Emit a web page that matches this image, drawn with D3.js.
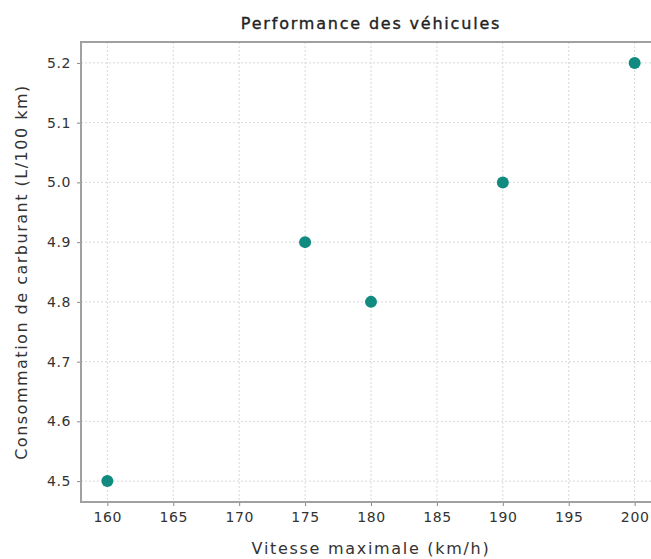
<!DOCTYPE html>
<html>
<head>
  <meta charset="utf-8">
  <script src="https://d3js.org/d3.v7.min.js"></script>
  <style>
    body { margin: 0; background: #fff; overflow: hidden; }
    * { font-family: 'DejaVu Sans', sans-serif; }
    .grid line { stroke: #d8d8d8; stroke-dasharray: 2,2; stroke-width: 1; }
    .axis text { fill: #333; font-size: 14px; letter-spacing: 0.6px; }
    .axis line { stroke: #888; }
    .spine { stroke: #a0a0a0; stroke-width: 2; }
  </style>
</head>
<body>
  <div id="chart"></div>
  <script>
    // data
    const speeds = [160, 175, 180, 190, 200];
    const consumption = [4.5, 4.9, 4.8, 5.0, 5.2];
    const xTicks = [160, 165, 170, 175, 180, 185, 190, 195, 200];
    const yTicks = [4.5, 4.6, 4.7, 4.8, 4.9, 5.0, 5.1, 5.2];

    const width = 651, height = 559;
    const plotLeft = 81, plotTop = 42, plotRight = 661, plotBottom = 502;
    // the figure is cut on the right: nothing is drawn past the window
    const visibleRight = Math.min(plotRight, width);

    const svg = d3.select('#chart').append('svg')
      .attr('width', width)
      .attr('height', height)
      .style('display', 'block');

    const x = d3.scaleLinear().domain([158, 202]).range([plotLeft, plotRight]);
    const y = d3.scaleLinear().domain([4.465, 5.235]).range([plotBottom, plotTop]);

    // grid
    svg.append('g').attr('class', 'grid')
      .selectAll('line').data(xTicks).enter().append('line')
      .attr('x1', d => x(d)).attr('x2', d => x(d))
      .attr('y1', plotTop).attr('y2', plotBottom);
    svg.append('g').attr('class', 'grid')
      .selectAll('line').data(yTicks).enter().append('line')
      .attr('x1', plotLeft).attr('x2', visibleRight)
      .attr('y1', d => y(d)).attr('y2', d => y(d));

    // axes
    const xAxis = svg.append('g').attr('class', 'axis')
      .attr('transform', `translate(0,${plotBottom})`)
      .call(d3.axisBottom(x).tickValues(xTicks).tickSize(4).tickPadding(6).tickFormat(d3.format('d')));
    xAxis.select('.domain').remove();

    const yAxis = svg.append('g').attr('class', 'axis')
      .attr('transform', `translate(${plotLeft},0)`)
      .call(d3.axisLeft(y).tickValues(yTicks).tickSize(4).tickPadding(6).tickFormat(d3.format('.1f')));
    yAxis.select('.domain').remove();

    // spines (the right one falls outside the picture)
    const spines = svg.append('g');
    spines.append('line').attr('class', 'spine')
      .attr('x1', plotLeft).attr('x2', visibleRight).attr('y1', plotTop).attr('y2', plotTop);
    spines.append('line').attr('class', 'spine')
      .attr('x1', plotLeft).attr('x2', visibleRight).attr('y1', plotBottom).attr('y2', plotBottom);
    spines.append('line').attr('class', 'spine')
      .attr('x1', plotLeft).attr('x2', plotLeft).attr('y1', plotTop - 1).attr('y2', plotBottom + 1);

    // points
    svg.append('g').selectAll('circle')
      .data(speeds.map((s, i) => ({ s: s, c: consumption[i] })))
      .enter().append('circle')
      .attr('cx', d => x(d.s))
      .attr('cy', d => y(d.c))
      .attr('r', 6)
      .attr('fill', '#118a80');

    // title and labels
    svg.append('text')
      .attr('x', (plotLeft + plotRight) / 2).attr('y', 29)
      .attr('text-anchor', 'middle')
      .attr('font-size', 16)
      .attr('letter-spacing', 1.8)
      .attr('fill', '#222')
      .attr('stroke', '#222')
      .attr('stroke-width', 0.35)
      .text('Performance des véhicules');

    svg.append('text')
      .attr('x', (plotLeft + plotRight) / 2).attr('y', 554)
      .attr('text-anchor', 'middle')
      .attr('font-size', 16)
      .attr('letter-spacing', 1.7)
      .attr('fill', '#333')
      .text('Vitesse maximale (km/h)');

    svg.append('text')
      .attr('transform', `translate(27,${(plotTop + plotBottom) / 2}) rotate(-90)`)
      .attr('text-anchor', 'middle')
      .attr('font-size', 16)
      .attr('letter-spacing', 1.5)
      .attr('fill', '#333')
      .text('Consommation de carburant (L/100 km)');
  </script>
</body>
</html>
